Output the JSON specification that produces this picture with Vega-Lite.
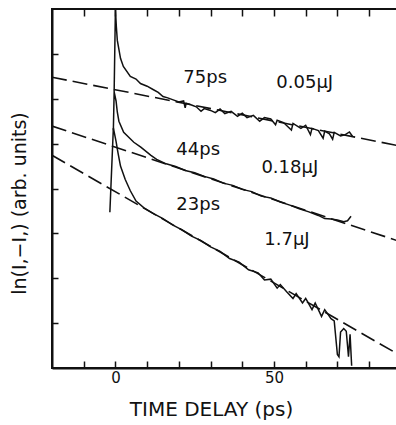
{
  "$schema": "https://vega.github.io/schema/vega-lite/v6.json",
  "autosize": "none",
  "width": 345,
  "height": 359,
  "padding": {"left": 52, "top": 9, "right": 0, "bottom": 57},
  "background": "white",
  "config": {
    "view": {"stroke": "#111", "strokeWidth": 2},
    "font": "DejaVu Sans",
    "axis": {"domainColor": "#111", "domainWidth": 2, "tickColor": "#111", "tickWidth": 1.5, "labelColor": "#111", "titleColor": "#111", "grid": false, "labelFont": "DejaVu Sans", "titleFont": "DejaVu Sans", "titleFontWeight": "normal"}
  },
  "datasets": {
    "curves": [
      {"s": "a", "i": 1, "x": -0.4, "y": 6.15},
      {"s": "a", "i": 2, "x": 0, "y": 8.0},
      {"s": "a", "i": 3, "x": 0.3, "y": 7.6},
      {"s": "a", "i": 4, "x": 0.6, "y": 7.3},
      {"s": "a", "i": 5, "x": 1.6, "y": 6.9},
      {"s": "a", "i": 6, "x": 2.5, "y": 6.72},
      {"s": "a", "i": 7, "x": 4.7, "y": 6.5},
      {"s": "a", "i": 8, "x": 6.5, "y": 6.44},
      {"s": "a", "i": 9, "x": 7.9, "y": 6.34},
      {"s": "a", "i": 10, "x": 10, "y": 6.28},
      {"s": "a", "i": 11, "x": 12, "y": 6.2},
      {"s": "a", "i": 12, "x": 13.5, "y": 6.14},
      {"s": "a", "i": 13, "x": 15, "y": 6.05},
      {"s": "a", "i": 14, "x": 16.5, "y": 6.02},
      {"s": "a", "i": 15, "x": 18, "y": 5.98},
      {"s": "a", "i": 16, "x": 20, "y": 5.93},
      {"s": "a", "i": 17, "x": 21.5, "y": 5.95},
      {"s": "a", "i": 18, "x": 22, "y": 5.8},
      {"s": "a", "i": 19, "x": 22.3, "y": 5.9},
      {"s": "a", "i": 20, "x": 24, "y": 5.86},
      {"s": "a", "i": 21, "x": 25.5, "y": 5.82},
      {"s": "a", "i": 22, "x": 27, "y": 5.72},
      {"s": "a", "i": 23, "x": 28, "y": 5.78},
      {"s": "a", "i": 24, "x": 30, "y": 5.74},
      {"s": "a", "i": 25, "x": 31.5, "y": 5.69},
      {"s": "a", "i": 26, "x": 33, "y": 5.77},
      {"s": "a", "i": 27, "x": 34.5, "y": 5.67},
      {"s": "a", "i": 28, "x": 36.5, "y": 5.72},
      {"s": "a", "i": 29, "x": 38.5, "y": 5.61},
      {"s": "a", "i": 30, "x": 40, "y": 5.68},
      {"s": "a", "i": 31, "x": 41.5, "y": 5.58},
      {"s": "a", "i": 32, "x": 43.5, "y": 5.63},
      {"s": "a", "i": 33, "x": 45.5, "y": 5.5},
      {"s": "a", "i": 34, "x": 47, "y": 5.58},
      {"s": "a", "i": 35, "x": 49, "y": 5.55},
      {"s": "a", "i": 36, "x": 50.5, "y": 5.42},
      {"s": "a", "i": 37, "x": 51, "y": 5.52},
      {"s": "a", "i": 38, "x": 53, "y": 5.47},
      {"s": "a", "i": 39, "x": 55.5, "y": 5.3},
      {"s": "a", "i": 40, "x": 56, "y": 5.45},
      {"s": "a", "i": 41, "x": 58.5, "y": 5.34},
      {"s": "a", "i": 42, "x": 60, "y": 5.41},
      {"s": "a", "i": 43, "x": 61.5, "y": 5.2},
      {"s": "a", "i": 44, "x": 62, "y": 5.34},
      {"s": "a", "i": 45, "x": 64, "y": 5.29},
      {"s": "a", "i": 46, "x": 65.5, "y": 5.12},
      {"s": "a", "i": 47, "x": 66, "y": 5.28},
      {"s": "a", "i": 48, "x": 67.5, "y": 5.22},
      {"s": "a", "i": 49, "x": 68.5, "y": 5.1},
      {"s": "a", "i": 50, "x": 69, "y": 5.25},
      {"s": "a", "i": 51, "x": 71, "y": 5.17},
      {"s": "a", "i": 52, "x": 72.5, "y": 5.2},
      {"s": "a", "i": 53, "x": 73.8, "y": 5.26},
      {"s": "a", "i": 54, "x": 74.8, "y": 5.16},
      {"s": "b", "i": 1, "x": -0.65, "y": 5.3},
      {"s": "b", "i": 2, "x": -0.4, "y": 6.15},
      {"s": "b", "i": 3, "x": 0.2, "y": 5.95},
      {"s": "b", "i": 4, "x": 0.6, "y": 5.7},
      {"s": "b", "i": 5, "x": 1.1, "y": 5.5},
      {"s": "b", "i": 6, "x": 2.6, "y": 5.25},
      {"s": "b", "i": 7, "x": 5.8, "y": 5.03},
      {"s": "b", "i": 8, "x": 8, "y": 4.92},
      {"s": "b", "i": 9, "x": 11.2, "y": 4.74},
      {"s": "b", "i": 10, "x": 13, "y": 4.65},
      {"s": "b", "i": 11, "x": 16, "y": 4.55},
      {"s": "b", "i": 12, "x": 19, "y": 4.49},
      {"s": "b", "i": 13, "x": 22, "y": 4.4},
      {"s": "b", "i": 14, "x": 25, "y": 4.35},
      {"s": "b", "i": 15, "x": 28, "y": 4.27},
      {"s": "b", "i": 16, "x": 31, "y": 4.21},
      {"s": "b", "i": 17, "x": 34, "y": 4.12},
      {"s": "b", "i": 18, "x": 37, "y": 4.07},
      {"s": "b", "i": 19, "x": 40, "y": 3.98},
      {"s": "b", "i": 20, "x": 43, "y": 3.93},
      {"s": "b", "i": 21, "x": 46, "y": 3.83},
      {"s": "b", "i": 22, "x": 49, "y": 3.79},
      {"s": "b", "i": 23, "x": 52, "y": 3.7},
      {"s": "b", "i": 24, "x": 55, "y": 3.63},
      {"s": "b", "i": 25, "x": 58, "y": 3.55},
      {"s": "b", "i": 26, "x": 61, "y": 3.48},
      {"s": "b", "i": 27, "x": 64, "y": 3.4},
      {"s": "b", "i": 28, "x": 66, "y": 3.33},
      {"s": "b", "i": 29, "x": 68, "y": 3.32},
      {"s": "b", "i": 30, "x": 70, "y": 3.3},
      {"s": "b", "i": 31, "x": 72, "y": 3.26},
      {"s": "b", "i": 32, "x": 73.2, "y": 3.28},
      {"s": "b", "i": 33, "x": 74.3, "y": 3.38},
      {"s": "c", "i": 1, "x": -1.75, "y": 3.47},
      {"s": "c", "i": 2, "x": -0.65, "y": 5.35},
      {"s": "c", "i": 3, "x": 0.2, "y": 5.05},
      {"s": "c", "i": 4, "x": 0.8, "y": 4.8},
      {"s": "c", "i": 5, "x": 1.6, "y": 4.5},
      {"s": "c", "i": 6, "x": 3.1, "y": 4.2},
      {"s": "c", "i": 7, "x": 4.7, "y": 3.95},
      {"s": "c", "i": 8, "x": 6.5, "y": 3.72},
      {"s": "c", "i": 9, "x": 9, "y": 3.57},
      {"s": "c", "i": 10, "x": 12, "y": 3.44},
      {"s": "c", "i": 11, "x": 15, "y": 3.33},
      {"s": "c", "i": 12, "x": 18, "y": 3.19},
      {"s": "c", "i": 13, "x": 21, "y": 3.08},
      {"s": "c", "i": 14, "x": 24, "y": 2.94},
      {"s": "c", "i": 15, "x": 27, "y": 2.84},
      {"s": "c", "i": 16, "x": 30, "y": 2.7},
      {"s": "c", "i": 17, "x": 33, "y": 2.6},
      {"s": "c", "i": 18, "x": 36, "y": 2.44},
      {"s": "c", "i": 19, "x": 39, "y": 2.36},
      {"s": "c", "i": 20, "x": 42, "y": 2.19},
      {"s": "c", "i": 21, "x": 45, "y": 2.12},
      {"s": "c", "i": 22, "x": 47, "y": 1.96},
      {"s": "c", "i": 23, "x": 49, "y": 1.98},
      {"s": "c", "i": 24, "x": 51, "y": 1.78},
      {"s": "c", "i": 25, "x": 52, "y": 1.86},
      {"s": "c", "i": 26, "x": 54, "y": 1.7},
      {"s": "c", "i": 27, "x": 56, "y": 1.55},
      {"s": "c", "i": 28, "x": 57, "y": 1.66},
      {"s": "c", "i": 29, "x": 59, "y": 1.45},
      {"s": "c", "i": 30, "x": 60, "y": 1.55},
      {"s": "c", "i": 31, "x": 62, "y": 1.3},
      {"s": "c", "i": 32, "x": 63, "y": 1.45},
      {"s": "c", "i": 33, "x": 65, "y": 1.15},
      {"s": "c", "i": 34, "x": 66, "y": 1.3},
      {"s": "c", "i": 35, "x": 67, "y": 1.2},
      {"s": "c", "i": 36, "x": 68, "y": 1.1},
      {"s": "c", "i": 37, "x": 69, "y": 1.05},
      {"s": "c", "i": 38, "x": 70, "y": 0.3},
      {"s": "c", "i": 39, "x": 70.5, "y": 0.25},
      {"s": "c", "i": 40, "x": 71, "y": 0.8},
      {"s": "c", "i": 41, "x": 72, "y": 0.88},
      {"s": "c", "i": 42, "x": 72.8, "y": 0.82},
      {"s": "c", "i": 43, "x": 73.5, "y": 0.25},
      {"s": "c", "i": 44, "x": 74, "y": 0.75},
      {"s": "c", "i": 45, "x": 74.5, "y": 0.05}
    ],
    "fits": [
      {"s": "a", "x": -20, "y": 6.48},
      {"s": "a", "x": 88.8, "y": 4.96},
      {"s": "b", "x": -20, "y": 5.39},
      {"s": "b", "x": 88.8, "y": 2.84},
      {"s": "c", "x": -20, "y": 4.74},
      {"s": "c", "x": 88.8, "y": 0.32}
    ],
    "labels": [
      {"t": "75ps", "x": 28.3, "y": 6.46},
      {"t": "0.05μJ", "x": 59.7, "y": 6.35},
      {"t": "44ps", "x": 26.1, "y": 4.86},
      {"t": "0.18μJ", "x": 55.0, "y": 4.45},
      {"t": "23ps", "x": 26.1, "y": 3.63},
      {"t": "1.7μJ", "x": 54.1, "y": 2.85}
    ]
  },
  "layer": [
    {
      "data": {"name": "fits"},
      "mark": {"type": "line", "color": "#111", "strokeWidth": 1.6, "strokeDash": [15, 6], "clip": true},
      "encoding": {
        "x": {"field": "x", "type": "quantitative", "scale": {"domain": [-20, 88.8], "nice": false, "zero": false},
          "axis": {"orient": "bottom", "values": [-10, 0, 10, 20, 30, 40, 50, 60, 70, 80], "tickSize": -7, "labelExpr": "datum.value == 0 || datum.value == 50 ? datum.label : ''", "labelFontSize": 15, "labelPadding": 9, "title": "TIME DELAY (ps)", "titleFontSize": 20, "titlePadding": 14, "titleX": 159}},
        "y": {"field": "y", "type": "quantitative", "scale": {"domain": [0, 8], "nice": false, "zero": false},
          "axis": {"values": [1, 2, 3, 4, 5, 6, 7], "tickSize": -6, "labels": false, "title": "ln(I,−I,) (arb. units)", "titleFontSize": 19, "titlePadding": 22, "titleY": 194}},
        "detail": {"field": "s"}
      }
    },
    {
      "data": {"name": "fits"},
      "mark": {"type": "point", "opacity": 0},
      "encoding": {
        "x": {"field": "x", "type": "quantitative", "scale": {"domain": [-20, 88.8], "nice": false, "zero": false},
          "axis": {"orient": "top", "values": [-10, 0, 10, 20, 30, 40, 50, 60, 70, 80], "tickSize": 7, "offset": -7, "domain": false, "labels": false, "title": null}},
        "y": {"field": "y", "type": "quantitative"}
      }
    },
    {
      "data": {"name": "curves"},
      "mark": {"type": "line", "color": "#111", "strokeWidth": 1.5, "clip": true},
      "encoding": {
        "x": {"field": "x", "type": "quantitative", "scale": {"domain": [-20, 88.8], "nice": false, "zero": false}, "axis": null},
        "y": {"field": "y", "type": "quantitative"},
        "detail": {"field": "s"},
        "order": {"field": "i", "type": "quantitative"}
      }
    },
    {
      "data": {"name": "labels"},
      "mark": {"type": "text", "fontSize": 18, "font": "DejaVu Sans", "color": "#111"},
      "encoding": {
        "x": {"field": "x", "type": "quantitative", "scale": {"domain": [-20, 88.8], "nice": false, "zero": false}, "axis": null},
        "y": {"field": "y", "type": "quantitative"},
        "text": {"field": "t"}
      }
    }
  ],
  "resolve": {"scale": {"x": "independent"}, "axis": {"x": "independent"}}
}
